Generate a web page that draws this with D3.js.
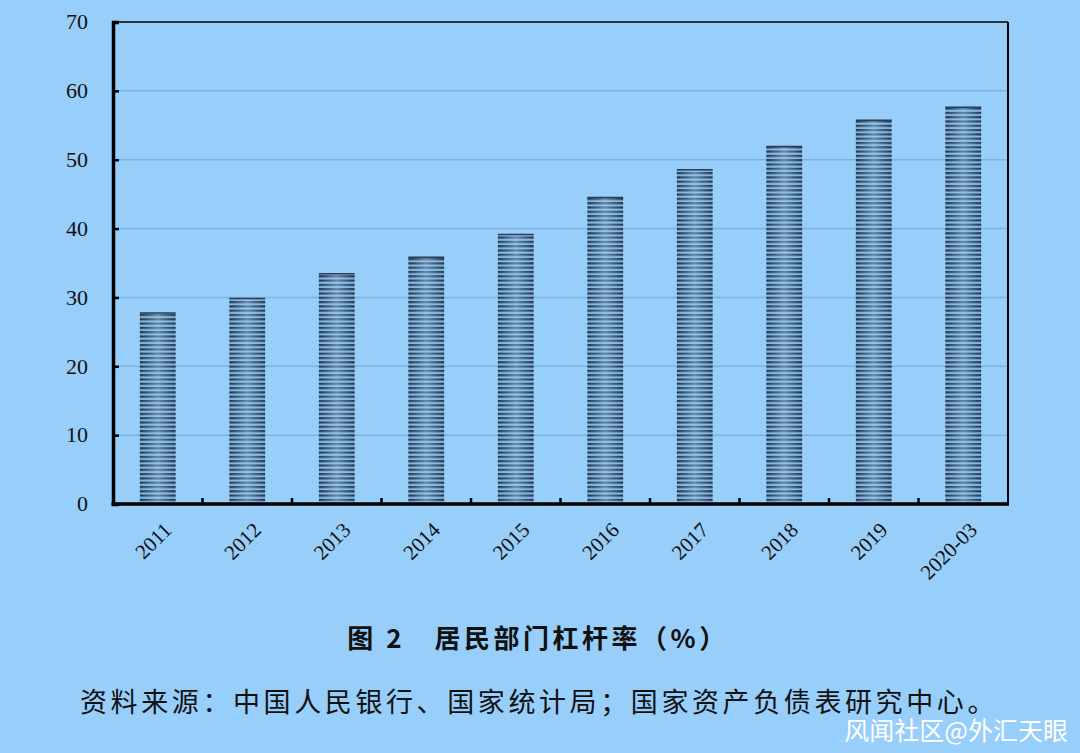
<!DOCTYPE html>
<html>
<head>
<meta charset="utf-8">
<script src="https://cdn.jsdelivr.net/npm/d3@7"></script>
<style>
  body { margin: 0; background: #98cefa; }
  svg { display: block; }
</style>
</head>
<body>
<script>
const categories = ["2011", "2012", "2013", "2014", "2015", "2016", "2017", "2018", "2019", "2020-03"];
const values = [27.8, 29.9, 33.5, 35.9, 39.2, 44.6, 48.6, 52.0, 55.8, 57.7];
const yTicks = [0, 10, 20, 30, 40, 50, 60, 70];
const title = "图 2　居民部门杠杆率（%）";
const source = "资料来源：中国人民银行、国家统计局；国家资产负债表研究中心。";
const watermark = "风闻社区@外汇天眼";

const width = 1080, height = 753;
const margin = {top: 22, right: 72, bottom: 249, left: 113};

const svg = d3.select("body").append("svg")
    .attr("width", width)
    .attr("height", height);

svg.append("rect").attr("width", width).attr("height", height).attr("fill", "#98cefa");

const defs = svg.append("defs");

// horizontal stripes
const pat = defs.append("pattern")
    .attr("id", "stripes")
    .attr("patternUnits", "userSpaceOnUse")
    .attr("width", 8).attr("height", 4.3);
pat.append("rect").attr("width", 8).attr("height", 4.3).attr("fill", "#7fb3dd");
pat.append("rect").attr("y", 0).attr("width", 8).attr("height", 2.2).attr("fill", "#22364c");

// lighter in the middle of each bar
const grad = defs.append("linearGradient").attr("id", "shine");
grad.append("stop").attr("offset", "0%").attr("stop-color", "#98cefa").attr("stop-opacity", 0);
grad.append("stop").attr("offset", "50%").attr("stop-color", "#a8d8ff").attr("stop-opacity", 0.5);
grad.append("stop").attr("offset", "100%").attr("stop-color", "#98cefa").attr("stop-opacity", 0);

const x = d3.scaleBand()
    .domain(categories)
    .range([margin.left, width - margin.right])
    .paddingInner(0.6)
    .paddingOuter(0.3);

const y = d3.scaleLinear()
    .domain([0, 70])
    .range([height - margin.bottom, margin.top]);

// grid
svg.append("g")
  .selectAll("line")
  .data(yTicks.filter(d => d > 0 && d < 70))
  .join("line")
    .attr("x1", margin.left).attr("x2", width - margin.right)
    .attr("y1", d => y(d)).attr("y2", d => y(d))
    .attr("stroke", "#7eb4df")
    .attr("stroke-width", 1.5);

// bars
const bars = svg.append("g");
bars.selectAll("rect.bar")
  .data(values)
  .join("rect")
    .attr("class", "bar")
    .attr("x", (d, i) => x(categories[i]))
    .attr("y", d => y(d))
    .attr("width", x.bandwidth())
    .attr("height", d => y(0) - y(d))
    .attr("fill", "url(#stripes)");
bars.selectAll("rect.shine")
  .data(values)
  .join("rect")
    .attr("class", "shine")
    .attr("x", (d, i) => x(categories[i]))
    .attr("y", d => y(d))
    .attr("width", x.bandwidth())
    .attr("height", d => y(0) - y(d))
    .attr("fill", "url(#shine)");
bars.selectAll("line.cap")
  .data(values)
  .join("line")
    .attr("class", "cap")
    .attr("x1", (d, i) => x(categories[i]))
    .attr("x2", (d, i) => x(categories[i]) + x.bandwidth())
    .attr("y1", d => y(d) + 0.5).attr("y2", d => y(d) + 0.5)
    .attr("stroke", "#2a3f55").attr("stroke-width", 1.5);

// frame
svg.append("line")
    .attr("x1", margin.left).attr("x2", width - margin.right)
    .attr("y1", y(70)).attr("y2", y(70))
    .attr("stroke", "#000").attr("stroke-width", 1.5);
svg.append("line")
    .attr("x1", width - margin.right).attr("x2", width - margin.right)
    .attr("y1", y(70)).attr("y2", y(0))
    .attr("stroke", "#000").attr("stroke-width", 2);

// y axis
const yAxis = svg.append("g")
    .attr("transform", `translate(${margin.left},0)`)
    .call(d3.axisRight(y).tickValues(yTicks).tickSize(6).tickFormat(""));
yAxis.select(".domain").attr("stroke", "#000").attr("stroke-width", 3.5);
yAxis.selectAll(".tick line").attr("stroke", "#000").attr("stroke-width", 2.5);

svg.append("g")
  .selectAll("text")
  .data(yTicks)
  .join("text")
    .attr("x", 88)
    .attr("y", d => y(d))
    .attr("dy", "0.33em")
    .attr("text-anchor", "end")
    .attr("font-family", "Liberation Serif, serif")
    .attr("font-size", 22)
    .attr("fill", "#111")
    .text(d => d);

// x axis with ticks between categories
const step = x.step();
const bounds = d3.range(1, categories.length).map(i => margin.left + step * i);
svg.append("g")
  .selectAll("line")
  .data(bounds)
  .join("line")
    .attr("x1", d => d).attr("x2", d => d)
    .attr("y1", y(0)).attr("y2", y(0) - 6)
    .attr("stroke", "#000").attr("stroke-width", 2.5);
svg.append("line")
    .attr("x1", margin.left - 1.5).attr("x2", width - margin.right + 1)
    .attr("y1", y(0)).attr("y2", y(0))
    .attr("stroke", "#000").attr("stroke-width", 3.5);

svg.append("g")
  .selectAll("text")
  .data(categories)
  .join("text")
    .attr("transform", d => `translate(${x(d) + x.bandwidth() / 2 + 10},${y(0) + 22}) rotate(-45)`)
    .attr("text-anchor", "end")
    .attr("dy", "0.35em")
    .attr("font-family", "Liberation Serif, serif")
    .attr("font-size", 21)
    .attr("fill", "#111")
    .text(d => d);

// caption
svg.append("text")
    .attr("x", 538).attr("y", 648)
    .attr("text-anchor", "middle")
    .attr("font-family", "Noto Sans CJK SC, sans-serif")
    .attr("font-weight", "bold")
    .attr("font-size", 26)
    .attr("letter-spacing", 3.5)
    .attr("fill", "#111")
    .text(title);

svg.append("text")
    .attr("x", 80).attr("y", 712)
    .attr("font-family", "Noto Sans CJK SC, sans-serif")
    .attr("font-size", 27)
    .attr("letter-spacing", 3.6)
    .attr("fill", "#111")
    .text(source);

svg.append("text")
    .attr("x", 1068).attr("y", 740)
    .attr("text-anchor", "end")
    .attr("font-family", "Noto Sans CJK SC, sans-serif")
    .attr("font-size", 25)
    .attr("fill", "#fff")
    .text(watermark);
</script>
</body>
</html>
